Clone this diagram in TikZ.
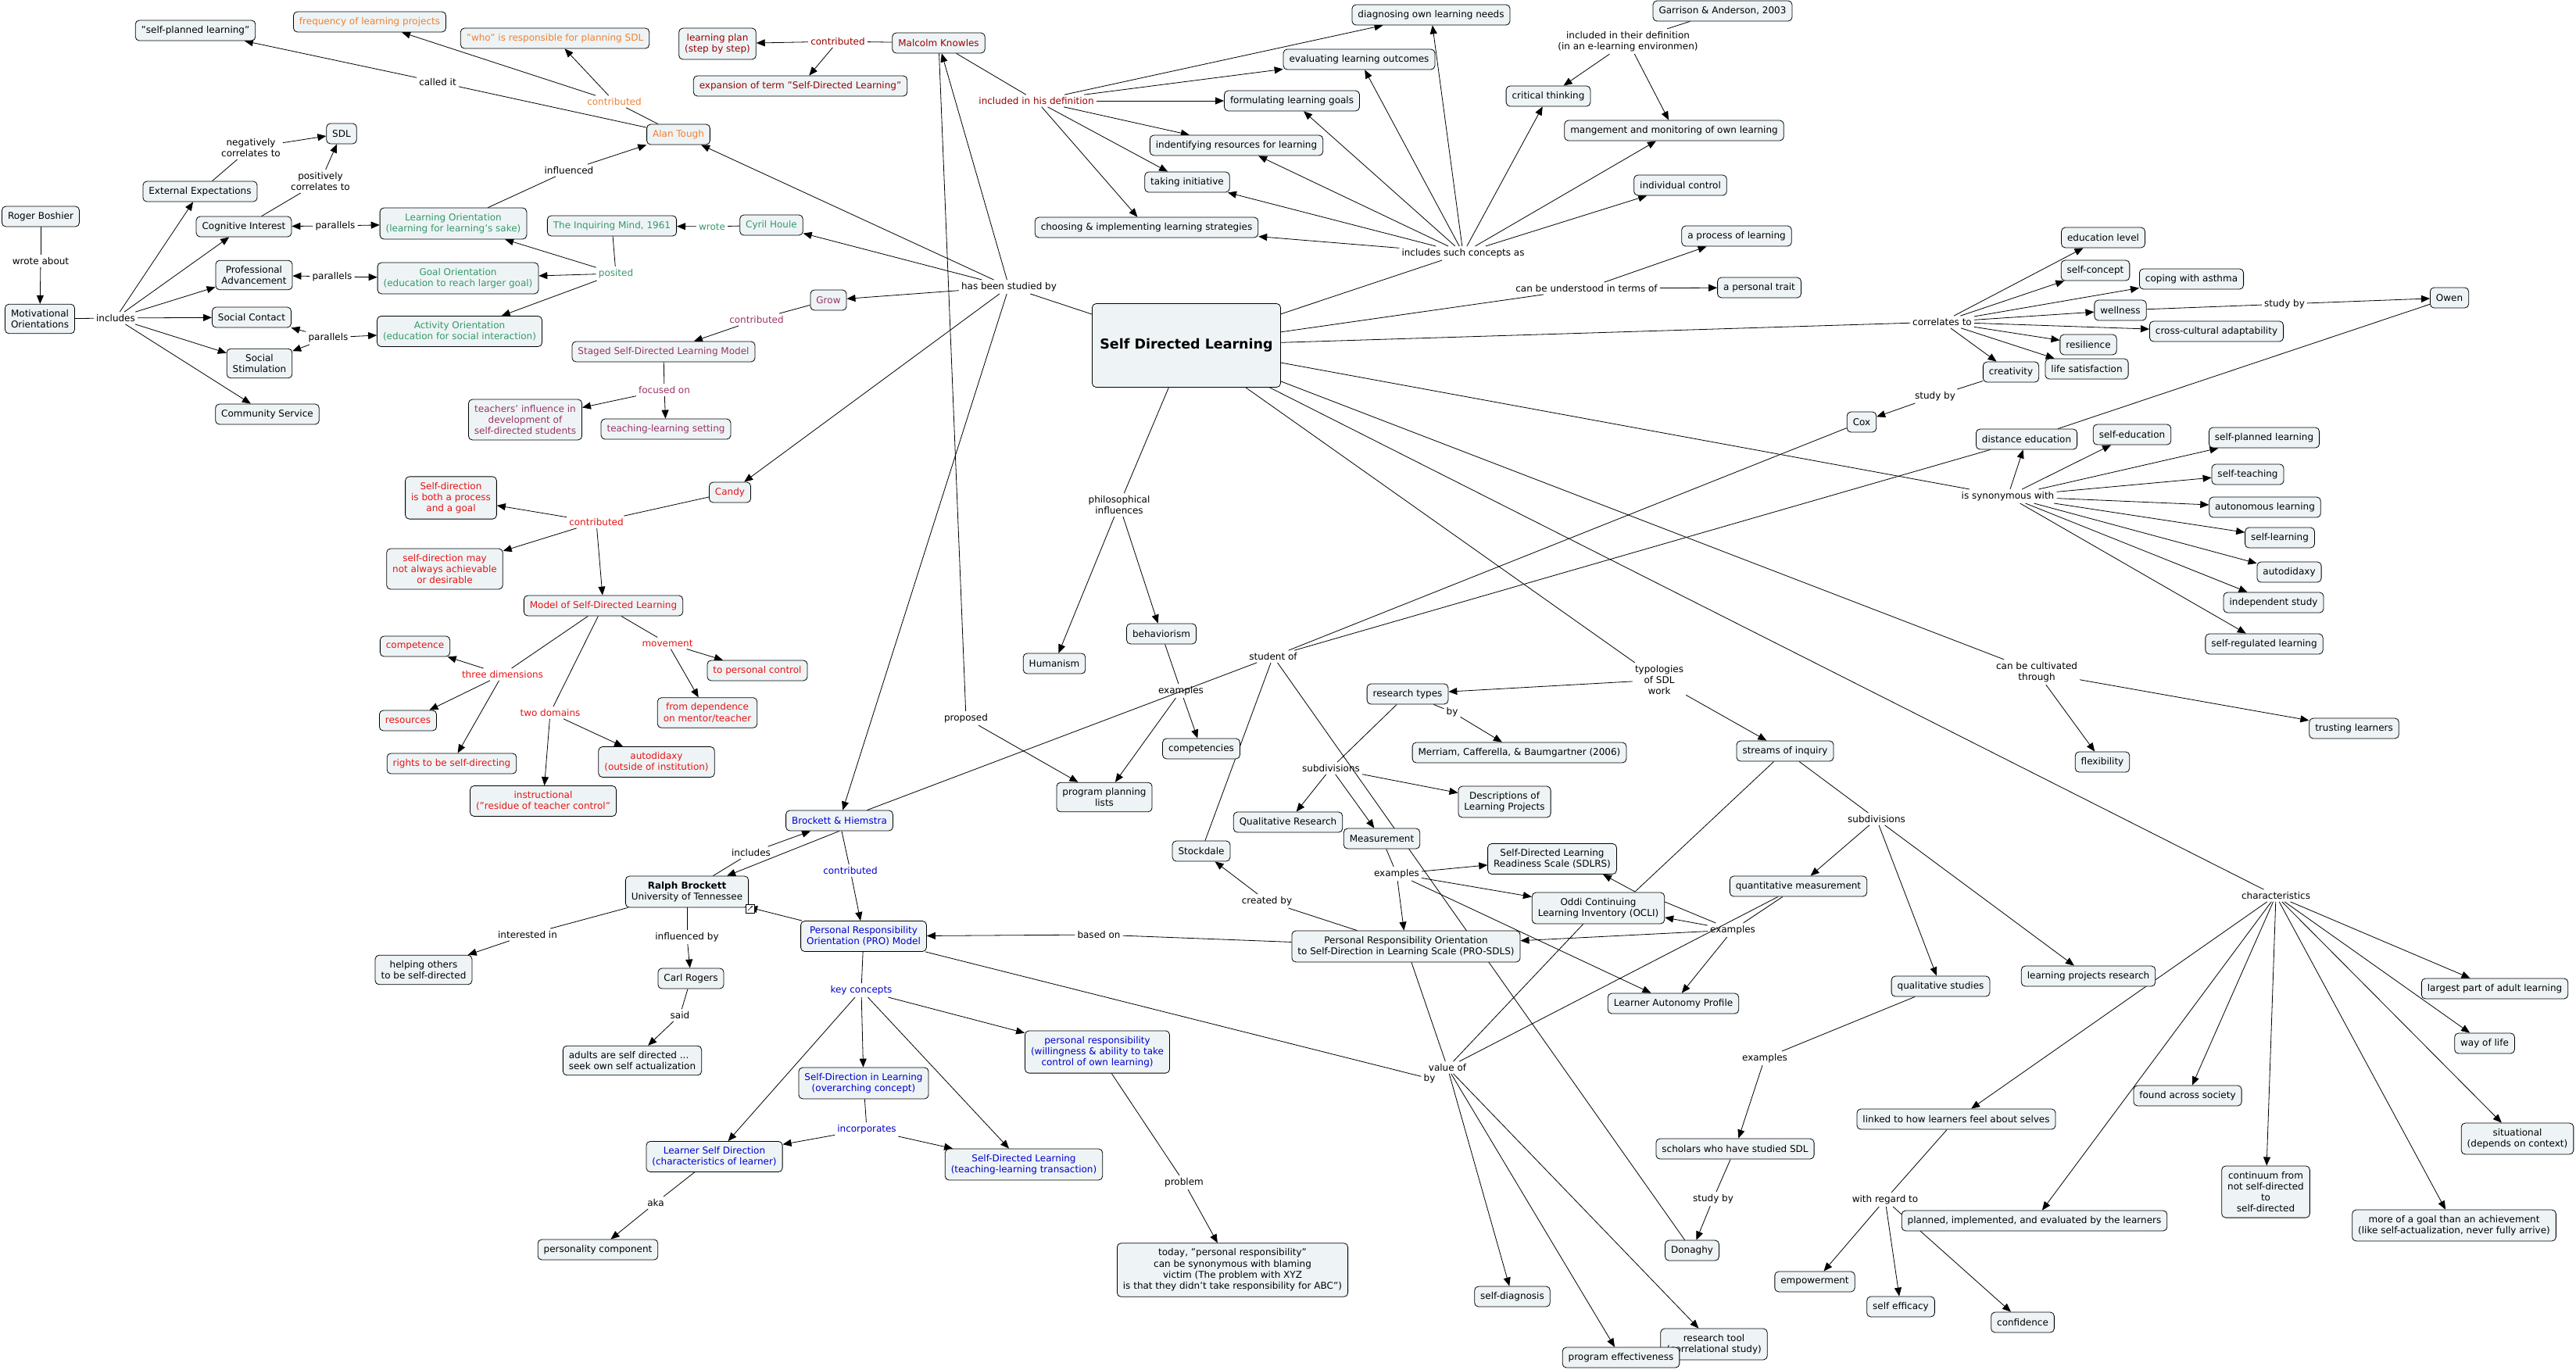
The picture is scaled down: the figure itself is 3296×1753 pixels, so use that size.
\documentclass[tikz,border=0pt]{standalone}
\usepackage{fontspec}
\setmainfont{DejaVu Sans}
\usetikzlibrary{arrows.meta,backgrounds}

\definecolor{boxfill}{RGB}{238,244,246}
\definecolor{tough}{RGB}{240,128,48}
\definecolor{knowles}{RGB}{153,0,0}
\definecolor{houle}{RGB}{51,153,102}
\definecolor{grow}{RGB}{153,51,102}
\definecolor{candy}{RGB}{230,20,20}
\definecolor{brockett}{RGB}{0,0,204}

\tikzset{
  concept/.style={draw, rounded corners=5pt, fill=boxfill, line width=0.8pt,
    inner xsep=7.5pt, inner ysep=7pt, minimum height=26pt, align=center,
    font=\fontsize{12}{14.3}\selectfont},
  phrase/.style={inner sep=3pt, align=center, font=\fontsize{12}{14.3}\selectfont},
  link/.style={line width=0.8pt},
  arrow/.style={line width=0.8pt, -{Triangle[length=11pt,width=9pt]}}
}

\begin{document}
\begin{tikzpicture}[x=1pt,y=-1pt]
    \useasboundingbox (0,0) rectangle (3296,1753);

    % Central concept
    \node [concept, minimum width=241pt, minimum height=107pt,
      font=\fontsize{17.5}{20}\selectfont\bfseries] (sdl) at (1518,442) {Self Directed Learning};

    % Boshier and motivational orientations
    \node [concept] (rb) at (52,277) {Roger Boshier};
    \node [concept] (mo) at (51,408) {Motivational\\Orientations};
    \node [concept] (ee) at (256,245) {External Expectations};
    \node [concept] (sdls) at (437,171) {SDL};
    \node [concept] (ci) at (312,290) {Cognitive Interest};
    \node [concept] (pa) at (325,352) {Professional\\Advancement};
    \node [concept] (sc) at (322,406) {Social Contact};
    \node [concept] (ss) at (332,465) {Social\\Stimulation};
    \node [concept] (cs) at (342,530) {Community Service};
    \node [phrase] (wa) at (52,334) {wrote about};
    \node [phrase] (inc) at (148,407) {includes};
    \node [phrase] (neg) at (321,189) {negatively\\correlates to};
    \node [phrase] (pos) at (410,232) {positively\\correlates to};
    \node [phrase] (par1) at (429,289) {parallels};
    \node [phrase] (par2) at (425,354) {parallels};
    \node [phrase] (par3) at (420,432) {parallels};

    % Houle
    \node [concept, text=houle] (lo) at (580,286) {Learning Orientation\\(learning for learning's sake)};
    \node [concept, text=houle] (go) at (586,356) {Goal Orientation\\(education to reach larger goal)};
    \node [concept, text=houle] (ao) at (588,424) {Activity Orientation\\(education for social interaction)};
    \node [concept, text=houle] (im) at (783,289) {The Inquiring Mind, 1961};
    \node [concept, text=houle] (ch) at (987,288) {Cyril Houle};
    \node [phrase, text=houle] (wrote) at (911,290) {wrote};
    \node [phrase, text=houle] (posited) at (788,350) {posited};

    % Tough
    \node [concept, text=tough] (at) at (868,172) {Alan Tough};
    \node [concept] (spl) at (250,39) {"self-planned learning"};
    \node [concept, text=tough] (flp) at (473,28) {frequency of learning projects};
    \node [concept, text=tough] (who) at (710,49) {"who" is responsible for planning SDL};
    \node [phrase] (infl) at (728,218) {influenced};
    \node [phrase] (called) at (560,105) {called it};
    \node [phrase, text=tough] (contrib1) at (786,130) {contributed};

    % Knowles
    \node [concept, text=knowles] (mk) at (1201,55) {Malcolm Knowles};
    \node [concept, text=knowles] (lp) at (918,56) {learning plan\\(step by step)};
    \node [concept, text=knowles] (exp) at (1024,110) {expansion of term "Self-Directed Learning"};
    \node [phrase, text=knowles] (contrib2) at (1072,53) {contributed};
    \node [phrase, text=knowles] (incdef) at (1326,129) {included in his definition};
    \node [concept] (diag) at (1831,19) {diagnosing own learning needs};
    \node [concept] (eval) at (1739,76) {evaluating learning outcomes};
    \node [concept] (form) at (1653,129) {formulating learning goals};
    \node [concept] (ident) at (1582,186) {indentifying resources for learning};
    \node [concept] (init) at (1519,233) {taking initiative};
    \node [concept] (choose) at (1467,291) {choosing \& implementing learning strategies};
    \node [phrase] (hbsb) at (1291,367) {has been studied by};
    \node [phrase] (proposed) at (1236,919) {proposed};

    % Grow
    \node [concept, text=grow] (grow) at (1060,384) {Grow};
    \node [concept, text=grow] (ssdl) at (849,450) {Staged Self-Directed Learning Model};
    \node [concept, text=grow] (ti) at (672,537) {teachers' influence in\\development of\\self-directed students};
    \node [concept, text=grow] (tls) at (852,549) {teaching-learning setting};
    \node [phrase, text=grow] (contrib3) at (968,409) {contributed};
    \node [phrase, text=grow] (focus) at (850,499) {focused on};

    % Candy
    \node [concept, text=candy] (candy) at (934,630) {Candy};
    \node [concept, text=candy] (sdpg) at (577,637) {Self-direction\\is both a process\\and a goal};
    \node [concept, text=candy] (sdna) at (569,728) {self-direction may\\not always achievable\\or desirable};
    \node [concept, text=candy] (msdl) at (772,775) {Model of Self-Directed Learning};
    \node [concept, text=candy] (comp) at (531,827) {competence};
    \node [concept, text=candy] (res) at (522,922) {resources};
    \node [concept, text=candy] (rts) at (578,977) {rights to be self-directing};
    \node [concept, text=candy] (instr) at (695,1025) {instructional\\("residue of teacher control"};
    \node [concept, text=candy] (auto) at (840,975) {autodidaxy\\(outside of institution)};
    \node [concept, text=candy] (tpc) at (969,858) {to personal control};
    \node [concept, text=candy] (fdm) at (905,912) {from dependence\\on mentor/teacher};
    \node [phrase, text=candy] (contrib4) at (763,668) {contributed};
    \node [phrase, text=candy] (threed) at (643,863) {three dimensions};
    \node [phrase, text=candy] (twod) at (704,912) {two domains};
    \node [phrase, text=candy] (move) at (854,823) {movement};

    % Brockett
    \node [concept, text=brockett] (bh) at (1074,1050) {Brockett \& Hiemstra};
    \node [concept] (ralph) at (879,1141) {\textbf{Ralph Brockett}\\University of Tennessee};
    \node [concept, text=brockett] (pro) at (1105,1198) {Personal Responsibility\\Orientation (PRO) Model};
    \node [concept] (help) at (542,1241) {helping others\\to be self-directed};
    \node [concept] (carl) at (884,1252) {Carl Rogers};
    \node [concept, align=left] (adults) at (809,1357) {adults are self directed ...\\seek own self actualization};
    \node [concept, text=brockett] (sdil) at (1105,1386) {Self-Direction in Learning\\(overarching concept)};
    \node [concept, text=brockett] (lsd) at (914,1480) {Learner Self Direction\\(characteristics of learner)};
    \node [concept, text=brockett] (sdlt) at (1310,1490) {Self-Directed Learning\\(teaching-learning transaction)};
    \node [concept, text=brockett] (pr) at (1404,1346) {personal responsibility\\(willingness \& ability to take\\control of own learning)};
    \node [concept] (pc) at (765,1599) {personality component};
    \node [concept] (today) at (1577,1625) {today, "personal responsibility"\\can be synonymous with blaming\\victim  (The problem with XYZ\\is that they didn't take responsibility for ABC")};
    \node [phrase] (incl2) at (961,1091) {includes};
    \node [phrase, text=brockett] (contrib5) at (1088,1114) {contributed};
    \node [phrase] (intin) at (675,1196) {interested in};
    \node [phrase] (inflby) at (879,1199) {influenced by};
    \node [phrase] (said) at (870,1299) {said};
    \node [phrase, text=brockett] (keyc) at (1102,1267) {key concepts};
    \node [phrase, text=brockett] (incorp) at (1109,1445) {incorporates};
    \node [phrase] (aka) at (839,1539) {aka};
    \node [phrase] (problem) at (1515,1513) {problem};

    % Concepts, definitions
    \node [concept] (ga) at (2204,14) {Garrison \& Anderson, 2003};
    \node [concept] (ct) at (1981,123) {critical thinking};
    \node [concept] (mm) at (2142,167) {mangement and monitoring of own learning};
    \node [concept] (ic) at (2150,237) {individual control};
    \node [concept] (pol) at (2222,302) {a process of learning};
    \node [concept] (trait) at (2251,368) {a personal trait};
    \node [phrase] (incsuch) at (1872,324) {includes such concepts as};
    \node [phrase] (inctheir) at (2083,53) {included in their definition\\(in an e-learning environmen)};
    \node [phrase] (underst) at (2030,369) {can be understood in terms of};

    % Correlates and synonyms
    \node [concept] (edu) at (2691,304) {education level};
    \node [concept] (sc2) at (2681,346) {self-concept};
    \node [concept] (asth) at (2804,357) {coping with asthma};
    \node [concept] (well) at (2713,397) {wellness};
    \node [concept] (owen) at (3134,381) {Owen};
    \node [concept] (cca) at (2836,424) {cross-cultural adaptability};
    \node [concept] (resil) at (2672,441) {resilience};
    \node [concept] (lifes) at (2670,472) {life satisfaction};
    \node [concept] (creat) at (2573,476) {creativity};
    \node [concept] (cox) at (2382,540) {Cox};
    \node [concept] (dist) at (2593,562) {distance education};
    \node [concept] (sedu) at (2728,556) {self-education};
    \node [concept] (spl2) at (2897,560) {self-planned learning};
    \node [concept] (steach) at (2876,607) {self-teaching};
    \node [concept] (auton) at (2898,649) {autonomous learning};
    \node [concept] (slearn) at (2917,688) {self-learning};
    \node [concept] (autod) at (2929,732) {autodidaxy};
    \node [concept] (indep) at (2909,771) {independent study};
    \node [concept] (sreg) at (2897,824) {self-regulated learning};
    \node [concept] (trust) at (3012,932) {trusting learners};
    \node [concept] (flex) at (2690,975) {flexibility};
    \node [phrase] (corr) at (2485,412) {correlates to};
    \node [phrase] (studyo) at (2923,389) {study by};
    \node [phrase] (studyc) at (2476,507) {study by};
    \node [phrase] (syn) at (2569,635) {is synonymous with};
    \node [phrase] (cult) at (2606,860) {can be cultivated\\through};

    % Characteristics
    \node [concept] (large) at (3192,1265) {largest part of adult learning};
    \node [concept] (wol) at (3179,1335) {way of life};
    \node [concept] (sit) at (3221,1457) {situational\\(depends on context)};
    \node [concept] (fas) at (2799,1402) {found across society};
    \node [concept] (cont) at (2899,1525) {continuum from\\not self-directed\\to\\self-directed};
    \node [concept] (goal) at (3140,1568) {more of a goal than an achievement\\(like self-actualization, never fully arrive)};
    \node [concept] (linked) at (2503,1432) {linked to how learners feel about selves};
    \node [concept] (plan) at (2603,1562) {planned, implemented, and evaluated by the learners};
    \node [concept] (emp) at (2322,1640) {empowerment};
    \node [concept] (seff) at (2432,1672) {self efficacy};
    \node [concept] (conf) at (2588,1692) {confidence};
    \node [phrase] (charac) at (2912,1146) {characteristics};
    \node [phrase] (withreg) at (2412,1535) {with regard to};

    % Influences and research
    \node [concept] (hum) at (1349,849) {Humanism};
    \node [concept] (beh) at (1486,811) {behaviorism};
    \node [concept] (compt) at (1537,958) {competencies};
    \node [concept] (ppl) at (1413,1020) {program planning\\lists};
    \node [concept] (rt) at (1801,888) {research types};
    \node [concept] (mer) at (1944,963) {Merriam, Cafferella, \& Baumgartner (2006)};
    \node [concept] (dlp) at (1925,1026) {Descriptions of\\Learning Projects};
    \node [concept] (qr) at (1648,1052) {Qualitative Research};
    \node [concept] (meas) at (1768,1073) {Measurement};
    \node [concept] (stock) at (1537,1089) {Stockdale};
    \node [concept] (sdlrs) at (1986,1099) {Self-Directed Learning\\Readiness Scale (SDLRS)};
    \node [concept] (ocli) at (2045,1162) {Oddi Continuing\\Learning Inventory (OCLI)};
    \node [concept] (prosdls) at (1799,1211) {Personal Responsibility Orientation\\to Self-Direction in Learning Scale (PRO-SDLS)};
    \node [concept] (lap) at (2141,1284) {Learner Autonomy Profile};
    \node [concept] (sdiag) at (1935,1659) {self-diagnosis};
    \node [concept] (rtool) at (2193,1720) {research tool\\(correlational study)};
    \node [concept] (peff) at (2074,1737) {program effectiveness};
    \node [concept] (donaghy) at (2165,1600) {Donaghy};
    \node [concept] (scholars) at (2220,1470) {scholars who have studied SDL};
    \node [concept] (soi) at (2284,961) {streams of inquiry};
    \node [concept] (quant) at (2301,1134) {quantitative measurement};
    \node [concept] (quals) at (2483,1262) {qualitative studies};
    \node [concept] (lpr) at (2672,1249) {learning projects research};
    \node [phrase] (philo) at (1432,646) {philosophical\\influences};
    \node [phrase] (exb) at (1511,884) {examples};
    \node [phrase] (typo) at (2123,870) {typologies\\of SDL\\work};
    \node [phrase] (studentof) at (1629,840) {student of};
    \node [phrase] (rtby) at (1858,911) {by};
    \node [phrase] (subd1) at (1703,983) {subdivisions};
    \node [phrase] (subd2) at (2401,1048) {subdivisions};
    \node [phrase] (exm) at (1787,1118) {examples};
    \node [phrase] (exq) at (2217,1190) {examples};
    \node [phrase] (exs) at (2258,1354) {examples};
    \node [phrase] (studyd) at (2192,1534) {study by};
    \node [phrase] (basedon) at (1406,1196) {based on};
    \node [phrase] (createdby) at (1621,1153) {created by};
    \node [phrase] (valof) at (1852,1366) {value of};
    \node [phrase] (by) at (1829,1380) {by};
    \coordinate (soibend) at (2092,1141);

    % Link icon on Ralph Brockett
    \draw [fill=white, line width=0.6pt] (954,1157) rectangle (965,1168);
    \draw [line width=0.6pt, -{Stealth[length=3pt]}] (957,1165) -- (963,1159);

    \begin{scope}[on background layer]
    % Boshier
    \draw [link] (rb) -- (wa);
    \draw [arrow] (wa) -- (mo);
    \draw [link] (mo) -- (inc);
    \draw [arrow] (inc) -- (ee);
    \draw [arrow] (inc) -- (ci);
    \draw [arrow] (inc) -- (pa);
    \draw [arrow] (inc) -- (sc);
    \draw [arrow] (inc) -- (ss);
    \draw [arrow] (inc) -- (cs);
    \draw [link] (ee) -- (neg);
    \draw [arrow] (neg) -- (sdls);
    \draw [link] (ci) -- (pos);
    \draw [arrow] (pos) -- (sdls);
    \draw [arrow] (par1) -- (ci);
    \draw [arrow] (par1) -- (lo);
    \draw [arrow] (par2) -- (pa);
    \draw [arrow] (par2) -- (go);
    \draw [arrow] (par3) -- (sc);
    \draw [arrow] (par3) -- (ss);
    \draw [arrow] (par3) -- (ao);

    % Houle
    \draw [link] (ch) -- (wrote);
    \draw [arrow] (wrote) -- (im);
    \draw [link] (im) -- (posited);
    \draw [arrow] (posited) -- (lo);
    \draw [arrow] (posited) -- (go);
    \draw [arrow] (posited) -- (ao);

    % Tough
    \draw [link] (lo) -- (infl);
    \draw [arrow] (infl) -- (at);
    \draw [link] (at) -- (called);
    \draw [arrow] (called) -- (spl);
    \draw [link] (at) -- (contrib1);
    \draw [arrow] (contrib1) -- (flp);
    \draw [arrow] (contrib1) -- (who);

    % Knowles
    \draw [link] (mk) -- (contrib2);
    \draw [arrow] (contrib2) -- (lp);
    \draw [arrow] (contrib2) -- (exp);
    \draw [link] (mk) -- (incdef);
    \draw [arrow] (incdef) -- (diag);
    \draw [arrow] (incdef) -- (eval);
    \draw [arrow] (incdef) -- (form);
    \draw [arrow] (incdef) -- (ident);
    \draw [arrow] (incdef) -- (init);
    \draw [arrow] (incdef) -- (choose);
    \draw [link] (mk) -- (proposed);
    \draw [arrow] (proposed) -- (ppl);

    % Studied by
    \draw [link] (sdl) -- (hbsb);
    \draw [arrow] (hbsb) -- (at);
    \draw [arrow] (hbsb) -- (ch);
    \draw [arrow] (hbsb) -- (grow);
    \draw [arrow] (hbsb) -- (candy);
    \draw [arrow] (hbsb) -- (bh);
    \draw [arrow] (hbsb) -- (mk);

    % Grow
    \draw [link] (grow) -- (contrib3);
    \draw [arrow] (contrib3) -- (ssdl);
    \draw [link] (ssdl) -- (focus);
    \draw [arrow] (focus) -- (ti);
    \draw [arrow] (focus) -- (tls);

    % Candy
    \draw [link] (candy) -- (contrib4);
    \draw [arrow] (contrib4) -- (sdpg);
    \draw [arrow] (contrib4) -- (sdna);
    \draw [arrow] (contrib4) -- (msdl);
    \draw [link] (msdl) -- (threed);
    \draw [link] (msdl) -- (twod);
    \draw [link] (msdl) -- (move);
    \draw [arrow] (threed) -- (comp);
    \draw [arrow] (threed) -- (res);
    \draw [arrow] (threed) -- (rts);
    \draw [arrow] (twod) -- (instr);
    \draw [arrow] (twod) -- (auto);
    \draw [arrow] (move) -- (tpc);
    \draw [arrow] (move) -- (fdm);

    % Brockett
    \draw [link] (ralph) -- (incl2);
    \draw [arrow] (incl2) -- (bh);
    \draw [arrow] (bh.south) -- (ralph);
    \draw [link] (bh) -- (contrib5);
    \draw [arrow] (contrib5) -- (pro);
    \draw [arrow] (pro) -- (ralph);
    \draw [link] (ralph) -- (intin);
    \draw [arrow] (intin) -- (help);
    \draw [link] (ralph) -- (inflby);
    \draw [arrow] (inflby) -- (carl);
    \draw [link] (carl) -- (said);
    \draw [arrow] (said) -- (adults);
    \draw [link] (pro) -- (keyc);
    \draw [arrow] (keyc) -- (lsd);
    \draw [arrow] (keyc) -- (sdil);
    \draw [arrow] (keyc) -- (sdlt);
    \draw [arrow] (keyc) -- (pr);
    \draw [link] (sdil) -- (incorp);
    \draw [arrow] (incorp) -- (lsd);
    \draw [arrow] (incorp) -- (sdlt);
    \draw [link] (lsd) -- (aka);
    \draw [arrow] (aka) -- (pc);
    \draw [link] (pr) -- (problem);
    \draw [arrow] (problem) -- (today);

    % Concepts
    \draw [link] (sdl) -- (incsuch);
    \draw [arrow] (incsuch) -- (diag);
    \draw [arrow] (incsuch) -- (eval);
    \draw [arrow] (incsuch) -- (form);
    \draw [arrow] (incsuch) -- (ident);
    \draw [arrow] (incsuch) -- (init);
    \draw [arrow] (incsuch) -- (choose);
    \draw [arrow] (incsuch) -- (ct);
    \draw [arrow] (incsuch) -- (mm);
    \draw [arrow] (incsuch) -- (ic);
    \draw [link] (ga) -- (inctheir);
    \draw [arrow] (inctheir) -- (ct);
    \draw [arrow] (inctheir) -- (mm);
    \draw [link] (sdl) -- (underst);
    \draw [arrow] (underst) -- (pol);
    \draw [arrow] (underst) -- (trait);

    % Correlates
    \draw [link] (sdl) -- (corr);
    \draw [arrow] (corr) -- (edu);
    \draw [arrow] (corr) -- (sc2);
    \draw [arrow] (corr) -- (asth);
    \draw [arrow] (corr) -- (well);
    \draw [arrow] (corr) -- (cca);
    \draw [arrow] (corr) -- (resil);
    \draw [arrow] (corr) -- (lifes);
    \draw [arrow] (corr) -- (creat);
    \draw [link] (well) -- (studyo);
    \draw [arrow] (studyo) -- (owen);
    \draw [link] (creat) -- (studyc);
    \draw [arrow] (studyc) -- (cox);
    \draw [link] (owen) -- (dist);

    % Synonyms
    \draw [link] (sdl) -- (syn);
    \draw [arrow] (syn) -- (dist);
    \draw [arrow] (syn) -- (sedu);
    \draw [arrow] (syn) -- (spl2);
    \draw [arrow] (syn) -- (steach);
    \draw [arrow] (syn) -- (auton);
    \draw [arrow] (syn) -- (slearn);
    \draw [arrow] (syn) -- (autod);
    \draw [arrow] (syn) -- (indep);
    \draw [arrow] (syn) -- (sreg);
    \draw [link] (sdl) -- (cult);
    \draw [arrow] (cult) -- (flex);
    \draw [arrow] (cult) -- (trust);

    % Characteristics
    \draw [link] (sdl) -- (charac);
    \draw [arrow] (charac) -- (large);
    \draw [arrow] (charac) -- (wol);
    \draw [arrow] (charac) -- (sit);
    \draw [arrow] (charac) -- (goal);
    \draw [arrow] (charac) -- (cont);
    \draw [arrow] (charac) -- (fas);
    \draw [arrow] (charac) -- (plan);
    \draw [arrow] (charac) -- (linked);
    \draw [link] (linked) -- (withreg);
    \draw [arrow] (withreg) -- (emp);
    \draw [arrow] (withreg) -- (seff);
    \draw [arrow] (withreg) -- (conf);

    % Influences
    \draw [link] (sdl) -- (philo);
    \draw [arrow] (philo) -- (hum);
    \draw [arrow] (philo) -- (beh);
    \draw [link] (beh) -- (exb);
    \draw [arrow] (exb) -- (compt);
    \draw [arrow] (exb) -- (ppl);

    % Typologies
    \draw [link] (sdl) -- (typo);
    \draw [arrow] (typo) -- (rt);
    \draw [arrow] (typo) -- (soi);
    \draw [link] (rt) -- (rtby);
    \draw [arrow] (rtby) -- (mer);
    \draw [link] (rt) -- (subd1);
    \draw [arrow] (subd1) -- (qr);
    \draw [arrow] (subd1) -- (meas);
    \draw [arrow] (subd1) -- (dlp);
    \draw [link] (meas) -- (exm);
    \draw [arrow] (exm) -- (sdlrs);
    \draw [arrow] (exm) -- (ocli);
    \draw [arrow] (exm) -- (prosdls);
    \draw [arrow] (exm) -- (lap);
    \draw [link] (soi) -- (subd2);
    \draw [arrow] (subd2) -- (quant);
    \draw [arrow] (subd2) -- (quals);
    \draw [arrow] (subd2) -- (lpr);
    \draw [link] (soi) -- (soibend);
    \draw [arrow] (soibend) -- ([xshift=65pt]sdlrs.south);
    \draw [link] (quant) -- (exq);
    \draw [link] ([yshift=8pt]ocli.east) -- (exq);
    \draw [arrow] (exq) -- ([yshift=-12pt]ocli.east);
    \draw [arrow] (exq) -- (prosdls);
    \draw [arrow] (exq) -- (lap);
    \draw [link] (quals) -- (exs);
    \draw [arrow] (exs) -- (scholars);
    \draw [link] (scholars) -- (studyd);
    \draw [arrow] (studyd) -- (donaghy);

    % Scale
    \draw [link] (prosdls) -- (basedon);
    \draw [arrow] (basedon) -- (pro);
    \draw [link] (prosdls) -- (createdby);
    \draw [arrow] (createdby) -- (stock);
    \draw [link] (studentof) -- (cox);
    \draw [link] (studentof) -- (dist);
    \draw [link] (studentof) -- (bh);
    \draw [link] (studentof) -- (stock);
    \draw [link] (studentof) -- (donaghy);
    \draw [link] (pro) -- (by);
    \draw [link] (ocli) -- (valof);
    \draw [link] (quant) -- (valof);
    \draw [link] (prosdls) -- (valof);
    \draw [arrow] (valof) -- (sdiag);
    \draw [arrow] (valof) -- (peff);
    \draw [arrow] (valof) -- (rtool);
    \end{scope}
\end{tikzpicture}
\end{document}
